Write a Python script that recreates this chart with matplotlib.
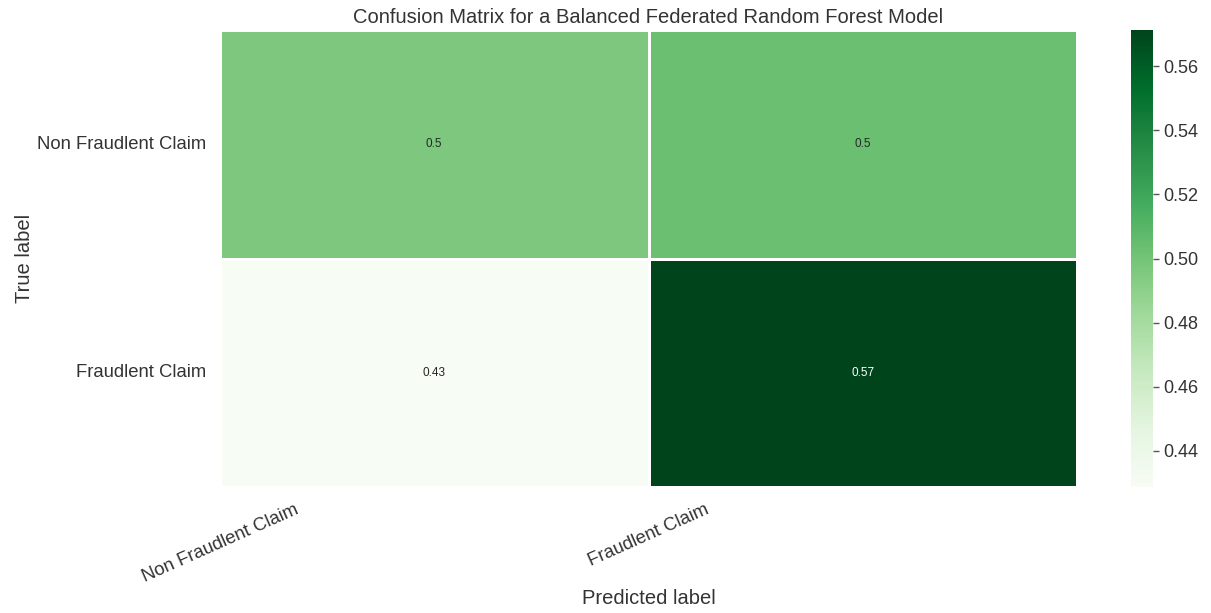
import numpy as np
import matplotlib
matplotlib.use("Agg")
import matplotlib.pyplot as plt
import seaborn as sns

# confusion matrix, normalised per true class
classes = ["Non Fraudlent Claim", "Fraudlent Claim"]
row_non_fraud = [0.4964, 0.5036]
row_fraud = [0.4286, 0.5714]
cm = np.array([row_non_fraud, row_fraud])

sns.set_style("white")
plt.rcParams["font.family"] = ["Liberation Sans", "DejaVu Sans"]
plt.rcParams["text.color"] = "#333333"
plt.rcParams["axes.labelcolor"] = "#333333"
plt.rcParams["xtick.color"] = "#333333"
plt.rcParams["ytick.color"] = "#333333"

fig = plt.figure(figsize=(12.11, 6.13), dpi=100)
ax = fig.add_axes([220 / 1211, 126 / 613, 857 / 1211, 457 / 613])
cax = fig.add_axes([1131 / 1211, 126 / 613, 22 / 1211, 457 / 613])

sns.heatmap(cm, annot=True, cmap="Greens", linewidths=1, linecolor="white",
            ax=ax, cbar_ax=cax, annot_kws={"size": 8.5})

ax.set_title("Confusion Matrix for a Balanced Federated Random Forest Model",
             fontsize=14.5, pad=5)
tick_marks = np.arange(len(classes))
ax.set_xticks(tick_marks)
ax.set_xticklabels(classes, rotation=24, fontsize=13.3)
ax.set_yticks(tick_marks + 0.5)
ax.set_yticklabels(classes, rotation=0, fontsize=13.3)
ax.tick_params(axis="x", length=0, pad=10)
ax.tick_params(axis="y", length=0, pad=10)
ax.set_ylabel("True label", fontsize=14.5, labelpad=2)
ax.set_xlabel("Predicted label", fontsize=14.5, labelpad=3)

cax.tick_params(labelsize=13, length=4, width=1, color="#555555")

plt.savefig("out.png", dpi=100)
